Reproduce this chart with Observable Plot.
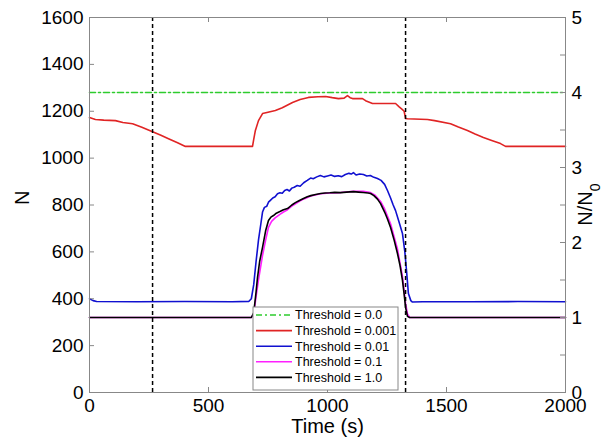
<!DOCTYPE html>
<html>
<head>
<meta charset="utf-8">
<script src="https://cdn.jsdelivr.net/npm/d3@7"></script>
<script src="https://cdn.jsdelivr.net/npm/@observablehq/plot@0.6"></script>
<style>
  html, body { margin: 0; padding: 0; background: #fff; }
  #chart svg { display: block; }
</style>
</head>
<body>
<div id="chart"></div>
<script>
// ---- data ----
const seriesNames = ["Threshold = 0.0", "Threshold = 0.001", "Threshold = 0.01", "Threshold = 0.1", "Threshold = 1.0"];
const seriesColors = ["#2ecc2e", "#e02424", "#1010d0", "#ff20ff", "#000000"];

const tGreen = [0, 2000];
const nGreen = [1280, 1280];

const tRed = [0, 25, 60, 109, 140, 181, 220, 265, 300, 332, 370, 403, 685, 690, 697, 710, 727, 750, 781, 810, 853, 885, 920, 960, 992, 1020, 1046, 1070, 1084, 1095, 1105, 1147, 1160, 1189, 1260, 1286, 1300, 1315, 1322, 1328, 1336, 1420, 1450, 1517, 1550, 1588, 1620, 1655, 1690, 1727, 1748, 2000];
const nRed = [1173, 1165, 1162, 1160, 1152, 1147, 1132, 1113, 1098, 1083, 1066, 1050, 1050, 1080, 1118, 1160, 1190, 1196, 1203, 1215, 1237, 1250, 1259, 1262, 1263, 1258, 1254, 1256, 1267, 1258, 1254, 1254, 1245, 1233, 1233, 1233, 1220, 1207, 1200, 1169, 1168, 1165, 1160, 1147, 1133, 1118, 1103, 1088, 1075, 1062, 1050, 1050];

const tBlue = [0, 15, 30, 200, 400, 600, 670, 680, 690, 700, 710, 720, 727, 735, 745, 752, 760, 770, 780, 790, 800, 810, 820, 830, 840, 850, 860, 873, 885, 900, 915, 929, 940, 955, 970, 985, 1000, 1015, 1030, 1045, 1060, 1075, 1090, 1100, 1109, 1120, 1135, 1151, 1165, 1180, 1195, 1210, 1225, 1240, 1252, 1265, 1276, 1286, 1300, 1315, 1325, 1332, 1340, 1350, 1357, 1400, 1600, 1800, 2000];
const nBlue = [400, 392, 388, 387, 388, 387, 389, 400, 460, 560, 650, 720, 770, 790, 795, 812, 820, 830, 835, 848, 852, 850, 862, 866, 860, 872, 876, 883, 880, 895, 905, 915, 912, 920, 926, 920, 924, 928, 922, 925, 921, 930, 935, 932, 938, 928, 932, 930, 924, 926, 918, 913, 905, 888, 862, 830, 800, 776, 730, 678, 600, 520, 422, 392, 386, 387, 387, 388, 387];

const tMagenta = [0, 680, 690, 700, 710, 727, 740, 752, 765, 780, 800, 815, 832, 850, 880, 899, 930, 971, 1010, 1055, 1109, 1150, 1181, 1200, 1223, 1240, 1265, 1294, 1315, 1328, 1336, 1345, 2000];
const nMagenta = [320, 320, 335, 410, 480, 585, 650, 705, 730, 745, 760, 770, 780, 795, 815, 825, 838, 848, 851, 853, 858, 858, 853, 842, 815, 783, 720, 612, 495, 380, 335, 320, 320];

const tBlack = [0, 680, 690, 700, 706, 715, 727, 740, 752, 762, 773, 785, 800, 815, 832, 850, 865, 880, 899, 915, 930, 950, 971, 990, 1010, 1030, 1055, 1080, 1109, 1130, 1150, 1170, 1181, 1195, 1210, 1223, 1240, 1252, 1265, 1280, 1294, 1305, 1315, 1322, 1328, 1336, 1345, 2000];
const nBlack = [320, 320, 340, 430, 491, 560, 619, 690, 734, 748, 755, 765, 772, 780, 785, 800, 810, 818, 828, 835, 840, 845, 849, 851, 852, 854, 853, 855, 857, 855, 853, 851, 849, 840, 825, 806, 770, 740, 704, 650, 593, 540, 478, 420, 363, 325, 320, 320];

const markerTimes = [265, 1328];
const xTicks = [0, 500, 1000, 1500, 2000];
const yTicks = [0, 200, 400, 600, 800, 1000, 1200, 1400, 1600];
const N0 = 320;
const ratioTicks = [0, 0.5, 1, 1.5, 2, 2.5, 3, 3.5, 4, 4.5, 5];
const ratioLabels = [0, 1, 2, 3, 4, 5];

// ---- build tables ----
const tables = [
  [tGreen, nGreen], [tRed, nRed], [tBlue, nBlue], [tMagenta, nMagenta], [tBlack, nBlack]
].map(([t, n], i) => t.map((tt, j) => ({t: tt, n: n[j], s: seriesNames[i]})));

const W = 610, H = 447;
const mL = 89, mR = 45, mT = 17, mB = 55;
const fw = W - mL - mR, fh = H - mT - mB;
const font = "'Liberation Sans', Arial, sans-serif";

const lineMarks = tables.map((data, i) => Plot.line(data, {
  x: "t", y: "n", stroke: seriesColors[i], strokeWidth: 1.6,
  strokeDasharray: i === 0 ? "6,3,2,3" : null
}));

const chart = Plot.plot({
  width: W, height: H,
  marginLeft: mL, marginRight: mR, marginTop: mT, marginBottom: mB,
  style: {fontFamily: font, fontSize: "19px", color: "#000", background: "#fff"},
  x: {domain: [0, 2000]},
  y: {domain: [0, 1600]},
  marks: [
    ...lineMarks,
    Plot.ruleX(markerTimes, {x: d => d, stroke: "#000", strokeWidth: 1.5, strokeDasharray: "4,3"}),
    Plot.frame({stroke: "#888"}),
    // inward tick marks
    Plot.ruleX(xTicks, {x: d => d, stroke: "#888", insetTop: fh - 5}),
    Plot.ruleX(xTicks, {x: d => d, stroke: "#888", insetBottom: fh - 5}),
    Plot.ruleY(yTicks, {y: d => d, stroke: "#888", insetRight: fw - 5}),
    Plot.ruleY(ratioTicks, {y: d => d * N0, stroke: "#888", insetLeft: fw - 5}),
    // tick labels
    Plot.axisX({ticks: xTicks, tickSize: 0, tickPadding: 6, tickFormat: d => String(d), label: null}),
    Plot.axisY({anchor: "left", ticks: yTicks, tickSize: 0, tickPadding: 6, tickFormat: d => String(d), label: null}),
    Plot.axisY({anchor: "right", ticks: ratioLabels.map(r => r * N0), tickSize: 0, tickPadding: 6, tickFormat: d => String(d / N0), label: null}),
    // axis titles
    Plot.text(["Time (s)"], {frameAnchor: "bottom", dy: 40, text: d => d, fontSize: 20}),
    Plot.text(["N"], {frameAnchor: "left", dx: -67, text: d => d, fontSize: 20, rotate: -90})
  ]
});

document.getElementById("chart").appendChild(chart);

// right axis title with subscript
const svg = d3.select(chart);
const rt = svg.append("text")
  .attr("transform", `translate(${W - 18},${mT + fh / 2}) rotate(-90)`)
  .attr("text-anchor", "middle")
  .attr("font-family", font)
  .attr("font-size", 20)
  .attr("fill", "#000");
rt.append("tspan").text("N/N");
rt.append("tspan").attr("baseline-shift", "sub").attr("font-size", 14).text("0");

// legend
const lg = svg.append("g").attr("font-family", font).attr("font-size", 12.5).attr("text-anchor", "start");
const lx = 253, ly = 307, lw = 145, lh = 83, rowH = 15.6;
lg.append("rect").attr("x", lx).attr("y", ly).attr("width", lw).attr("height", lh)
  .attr("fill", "#fff").attr("stroke", "#888");
seriesNames.forEach((name, i) => {
  const cy = ly + 8 + i * rowH;
  lg.append("line").attr("x1", lx + 3).attr("x2", lx + 39).attr("y1", cy).attr("y2", cy)
    .attr("stroke", seriesColors[i]).attr("stroke-width", 1.6)
    .attr("stroke-dasharray", i === 0 ? "6,3,2,3" : null);
  lg.append("text").attr("x", lx + 42).attr("y", cy).attr("dy", "0.35em")
    .attr("text-anchor", "start").attr("fill", "#000").text(name);
});
</script>
</body>
</html>
